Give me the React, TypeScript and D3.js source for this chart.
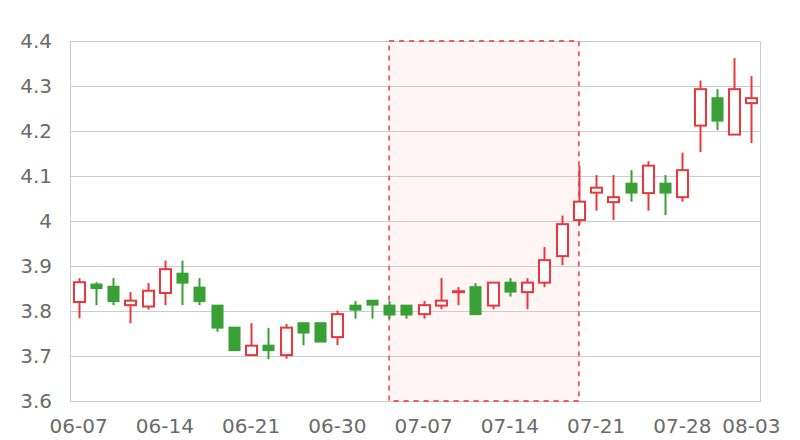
import React from "react";
import * as d3 from "d3";

const dates = [
  "06-07", "06-10", "06-11", "06-12", "06-13", "06-14", "06-17", "06-18", "06-19", "06-20",
  "06-21", "06-24", "06-25", "06-26", "06-27", "06-30", "07-01", "07-02", "07-03", "07-04",
  "07-07", "07-08", "07-09", "07-10", "07-11", "07-14", "07-15", "07-16", "07-17", "07-18",
  "07-21", "07-22", "07-23", "07-24", "07-25", "07-28", "07-29", "07-30", "07-31", "08-03",
];
const opens = [
  3.82, 3.86, 3.855, 3.813, 3.81, 3.84, 3.884, 3.853, 3.813, 3.764,
  3.702, 3.724, 3.702, 3.774, 3.774, 3.742, 3.813, 3.824, 3.813, 3.813,
  3.793, 3.812, 3.842, 3.854, 3.812, 3.864, 3.842, 3.863, 3.922, 4.002,
  4.063, 4.042, 4.084, 4.062, 4.084, 4.053, 4.212, 4.274, 4.192, 4.262,
];
const closes = [
  3.864, 3.85, 3.821, 3.823, 3.845, 3.893, 3.862, 3.821, 3.762, 3.712,
  3.723, 3.712, 3.763, 3.751, 3.731, 3.793, 3.802, 3.813, 3.791, 3.791,
  3.813, 3.823, 3.844, 3.792, 3.863, 3.842, 3.863, 3.913, 3.993, 4.043,
  4.074, 4.053, 4.062, 4.123, 4.062, 4.113, 4.293, 4.222, 4.293, 4.273,
];
const highs = [
  3.873, 3.864, 3.873, 3.842, 3.862, 3.912, 3.912, 3.873, 3.813, 3.764,
  3.773, 3.762, 3.771, 3.774, 3.774, 3.801, 3.822, 3.824, 3.822, 3.813,
  3.822, 3.873, 3.853, 3.862, 3.863, 3.873, 3.873, 3.942, 4.012, 4.123,
  4.102, 4.102, 4.113, 4.133, 4.102, 4.152, 4.312, 4.293, 4.362, 4.322,
];
const lows = [
  3.784, 3.813, 3.813, 3.773, 3.803, 3.813, 3.813, 3.813, 3.754, 3.712,
  3.702, 3.693, 3.694, 3.724, 3.731, 3.724, 3.783, 3.783, 3.783, 3.783,
  3.783, 3.804, 3.813, 3.792, 3.804, 3.832, 3.804, 3.853, 3.902, 3.991,
  4.023, 4.002, 4.043, 4.023, 4.013, 4.043, 4.153, 4.202, 4.192, 4.173,
];
const yTicks = [3.6, 3.7, 3.8, 3.9, 4.0, 4.1, 4.2, 4.3, 4.4];
const xTickIdx = [0, 5, 10, 15, 20, 25, 30, 35, 39];
const markStart = "07-03";
const markEnd = "07-18";

const W = 800;
const H = 440;
const M = { left: 70, right: 40, top: 41, bottom: 39 };
const UP = "#e8383d";
const DOWN = "#38a035";
const FONT = "'DejaVu Sans', sans-serif";

export default function App() {
  const x = d3
    .scaleBand<string>()
    .domain(dates)
    .range([M.left, W - M.right])
    .padding(0);
  const y = d3.scaleLinear().domain([3.6, 4.4]).range([H - M.bottom, M.top]);
  const bw = x.bandwidth();
  const bodyW = bw * 0.64;
  const cx = (d: string) => (x(d) as number) + bw / 2;
  const fmt = (v: number) => d3.format("~g")(+v.toFixed(1));

  const mx0 = cx(markStart);
  const mx1 = cx(markEnd);

  return (
    <svg
      width={W}
      height={H}
      style={{ position: "absolute", left: 0, top: 0, background: "#fff" }}
    >
      <rect
        x={mx0}
        y={y(4.4)}
        width={mx1 - mx0}
        height={y(3.6) - y(4.4)}
        fill="#fff5f5"
      />
      {yTicks.map((t) => (
        <g key={t}>
          <line
            x1={M.left}
            x2={W - M.right}
            y1={Math.round(y(t)) + 0.5}
            y2={Math.round(y(t)) + 0.5}
            stroke="#cccccc"
            strokeWidth={1}
          />
          <text
            x={52}
            y={y(t)}
            textAnchor="end"
            dominantBaseline="central"
            fontFamily={FONT}
            fontSize={20}
            fill="#6a6a6a"
          >
            {fmt(t)}
          </text>
        </g>
      ))}
      <line
        x1={M.left + 0.5}
        x2={M.left + 0.5}
        y1={y(4.4)}
        y2={y(3.6) + 1}
        stroke="#cccccc"
      />
      <line
        x1={W - M.right + 0.5}
        x2={W - M.right + 0.5}
        y1={y(4.4)}
        y2={y(3.6) + 1}
        stroke="#cccccc"
      />
      <rect
        x={mx0}
        y={y(4.4)}
        width={mx1 - mx0}
        height={y(3.6) - y(4.4)}
        fill="none"
        stroke="#f25a5a"
        strokeWidth={1.8}
        strokeDasharray="5,5"
      />
      {dates.map((d, i) => {
        const o = opens[i];
        const c = closes[i];
        const up = c >= o;
        const col = up ? UP : DOWN;
        const top = y(Math.max(o, c));
        const bot = y(Math.min(o, c));
        const h = Math.max(bot - top, 1);
        const xc = Math.round(cx(d)) + 0.5;
        return (
          <g key={d}>
            <line
              x1={xc}
              x2={xc}
              y1={y(highs[i])}
              y2={top}
              stroke={col}
              strokeWidth={2}
            />
            <line
              x1={xc}
              x2={xc}
              y1={bot}
              y2={y(lows[i])}
              stroke={col}
              strokeWidth={2}
            />
            {up ? (
              <rect
                x={xc - bodyW / 2}
                y={top}
                width={bodyW}
                height={h}
                fill="#fff"
                stroke={col}
                strokeWidth={2}
              />
            ) : (
              <rect
                x={xc - bodyW / 2 - 0.5}
                y={top - 0.5}
                width={bodyW + 1}
                height={h + 1}
                fill={col}
              />
            )}
          </g>
        );
      })}
      {xTickIdx.map((i) => (
        <text
          key={i}
          x={cx(dates[i])}
          y={433}
          textAnchor="middle"
          fontFamily={FONT}
          fontSize={20}
          fill="#6a6a6a"
        >
          {dates[i]}
        </text>
      ))}
    </svg>
  );
}
